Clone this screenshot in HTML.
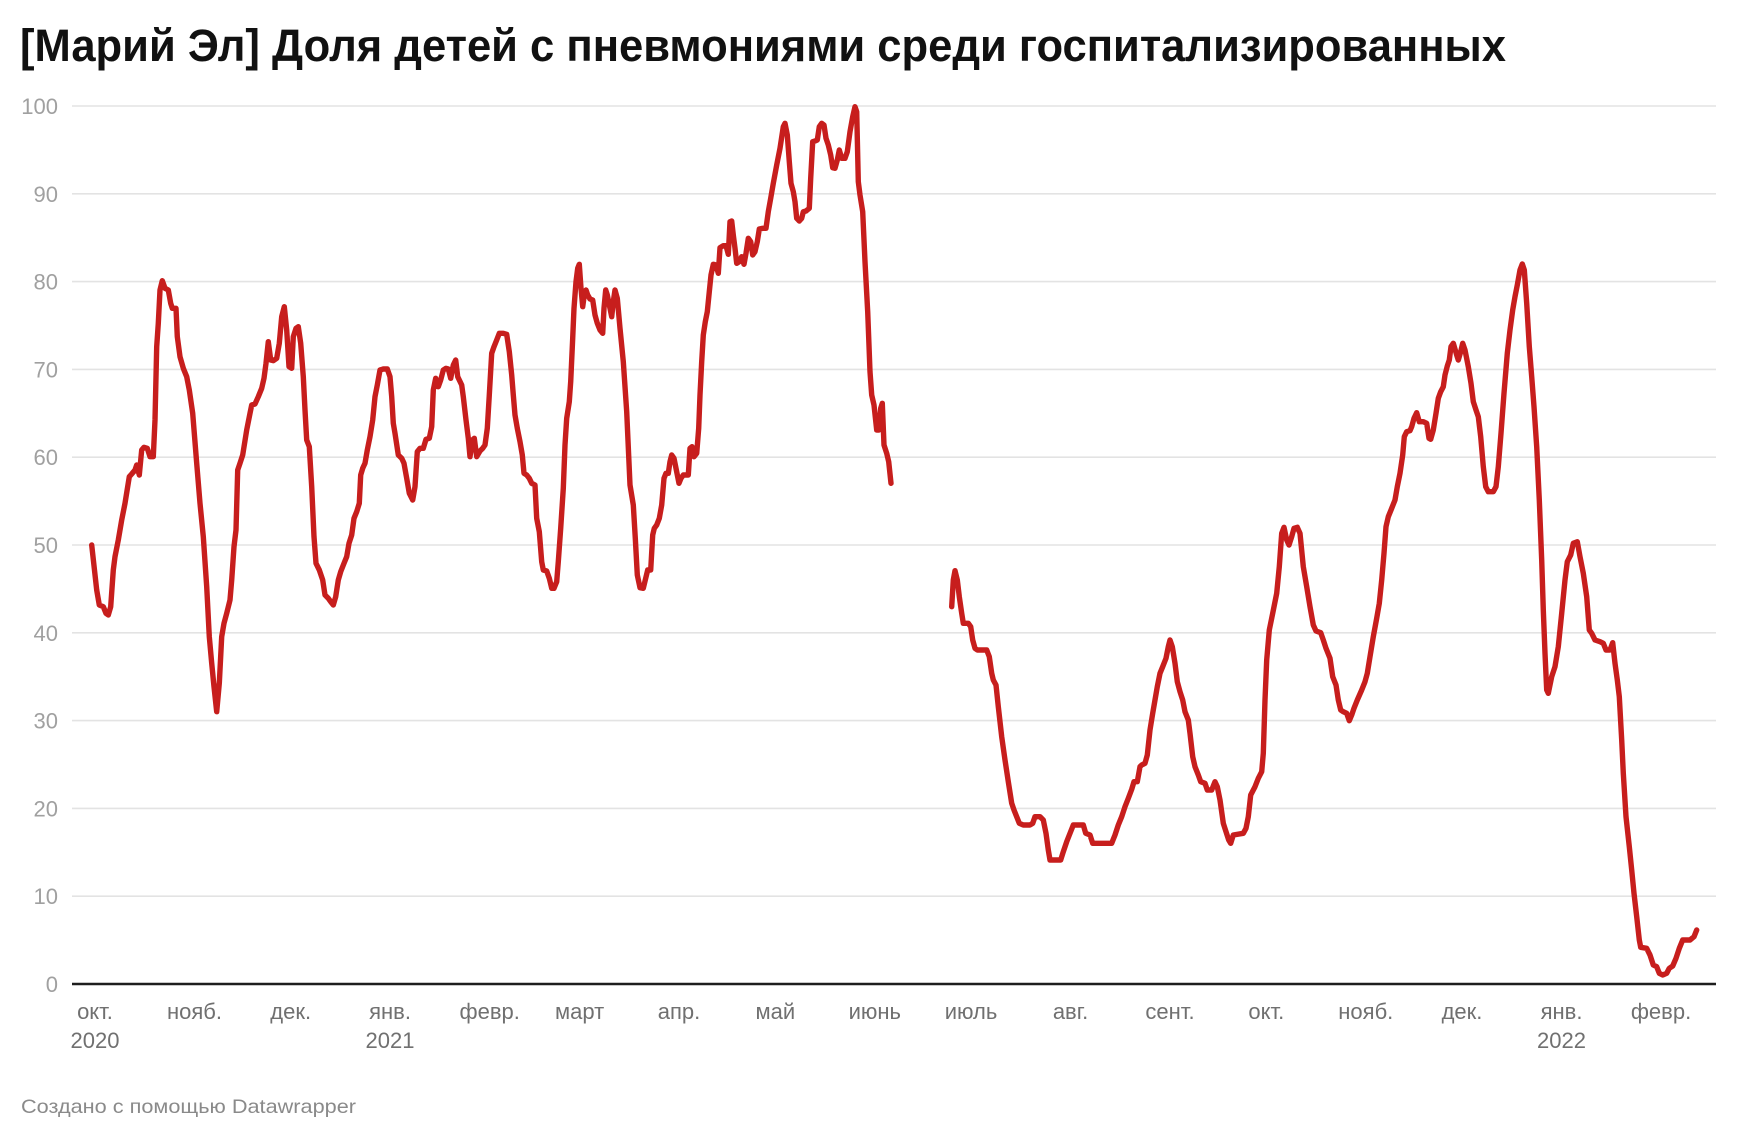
<!DOCTYPE html>
<html>
<head>
<meta charset="utf-8">
<style>
  html, body { margin: 0; padding: 0; background: #ffffff; }
  body { width: 1740px; height: 1140px; overflow: hidden; }
  svg { display: block; }
  text { font-family: "Liberation Sans", "Noto Sans CJK SC", sans-serif; }
</style>
</head>
<body>
<svg width="1740" height="1140" viewBox="0 0 1740 1140" xmlns="http://www.w3.org/2000/svg">
  <rect x="0" y="0" width="1740" height="1140" fill="#ffffff"/>

  <!-- Title -->
  <text x="20" y="61" font-size="45" font-weight="bold" fill="#111111" textLength="1486" lengthAdjust="spacingAndGlyphs">[Марий Эл] Доля детей с пневмониями среди госпитализированных</text>

  <!-- Gridlines -->
  <g stroke="#e3e3e3" stroke-width="1.6">
    <line x1="72" y1="106" x2="1716" y2="106"/>
    <line x1="72" y1="193.8" x2="1716" y2="193.8"/>
    <line x1="72" y1="281.6" x2="1716" y2="281.6"/>
    <line x1="72" y1="369.4" x2="1716" y2="369.4"/>
    <line x1="72" y1="457.2" x2="1716" y2="457.2"/>
    <line x1="72" y1="545" x2="1716" y2="545"/>
    <line x1="72" y1="632.8" x2="1716" y2="632.8"/>
    <line x1="72" y1="720.6" x2="1716" y2="720.6"/>
    <line x1="72" y1="808.4" x2="1716" y2="808.4"/>
    <line x1="72" y1="896.2" x2="1716" y2="896.2"/>
  </g>

  <!-- Y labels -->
  <g font-size="22" fill="#a0a0a0" text-anchor="end">
    <text x="58" y="114">100</text>
    <text x="58" y="201.8">90</text>
    <text x="58" y="289.6">80</text>
    <text x="58" y="377.4">70</text>
    <text x="58" y="465.2">60</text>
    <text x="58" y="553">50</text>
    <text x="58" y="640.8">40</text>
    <text x="58" y="728.6">30</text>
    <text x="58" y="816.4">20</text>
    <text x="58" y="904.2">10</text>
    <text x="58" y="992">0</text>
  </g>

  <!-- Data line -->
  <g fill="none" stroke="#c71e1d" stroke-width="5.4" stroke-linejoin="round" stroke-linecap="round">
    <polyline points="91.7,545 96.7,590 99.3,605 103.3,606.7 106,613.3 108.3,615 110.7,606.7 113.3,570 115,556.7 118.3,540 121.7,520 125,503.3 129.3,476.7 131.7,474 135,470 136.7,465 139.3,475 141.7,450 144,447.3 147.3,448.3 150,456.7 153.3,456.7 155,420 156.7,346.7 158.3,323.3 160,290 162.3,280.7 165,288.3 168.3,290 170.7,303.3 172.3,308.3 176,308.3 177.3,336.7 180,356.7 183.3,368.3 186.7,376.7 189.3,390 192.7,413.3 196.7,463.3 200,503.3 203.3,536.7 206.7,586.7 209.3,636.7 211.7,663.3 214,686.7 216.7,711.7 219.3,683.3 221.7,636.7 224,623.3 226.7,613.3 230,600 231.7,580 234,546.7 236,530 237.7,470 240,463.3 242.7,455 246.7,430 250,413.3 251.7,405 255,404 258.3,396.7 261.7,388.3 264,378.3 266,363.3 268.3,341.7 270.7,360 273.3,360.7 276.7,358.3 279.3,343.3 281.7,316.7 284.3,306.7 286.7,330 289,366.7 291.7,368.3 293.3,336.7 296,328.3 298.3,326.7 300.7,343.3 303.3,376.7 305,410 306.7,440 309.3,446.7 311.7,486.7 314,536.7 316,563.3 319.3,570 322.7,580 325,595 328.3,598.3 330.7,601.7 333.3,605 335.7,596.7 338.3,580 340.7,571.7 344,563.3 346.7,556.7 349,543.3 351.7,535 354,518.3 356.7,511.7 359.3,503.3 360.7,475 362.7,468.3 365,463.3 367.3,450 370,436.7 372.7,420 375,396.7 377.3,385 380,370 383.3,369 387.3,369 390,376.7 391.7,396.7 393.3,423.3 395,433.3 398.3,455 401.7,458.3 404,463.3 406.7,478.3 409.3,493.3 412.7,500 415,486.7 417.3,451.7 420,448.3 423.3,448.3 426,439.3 429.3,438.3 431.7,426.7 433.3,390 435.7,378.3 438.3,386.7 440.7,380 443.3,370 446,368.3 448.3,369 450.7,378.3 453.3,365 455.7,360 457.7,376.7 461.7,385 463.3,396.7 466,420 468.3,438.3 470,456.7 472.3,440 474.3,438.3 476.7,456.7 480,451 482.7,448.3 485,445 487.3,428.3 489.3,395 491.7,353.3 494,346.7 496.7,340 499.3,333.3 503.3,333.3 506.7,334.3 509.3,351.7 511.7,375 513.3,395 515,415 517.3,428.3 520,441.7 522.3,455 524,473.3 526.7,475 529.3,478.3 531.7,483.3 535,485 536.7,518.3 539.3,531.7 541.7,561.7 543.3,570 546.7,571 549.3,578.3 551.7,588.3 554,588.3 556.7,581.7 558.3,561.7 560.7,528.3 563.3,488.3 565,445 566.7,418.3 569.3,401.7 570.7,381.7 572.7,338.3 574,308.3 576,281.7 577.7,268.3 579.3,264.3 581,288.3 582.7,306.7 584.3,295 586,290 587.7,295 590,299 592.7,300 595,315 597.3,323.3 600,330 602.7,333.3 604,308.3 605.7,290 607.3,295 610,308.3 611.7,316.7 613.3,301.7 615,290 617.3,298.3 620,328.3 623.3,361.7 626.7,411.7 630,485 633.3,505 635.3,538.3 637.3,575 640,587.7 643.3,588.3 645.7,578.3 647.7,570 650.7,570 652.7,535 654.3,528.3 656.7,525 659.3,518.3 661.7,505 664,478.3 666,473.3 668.3,473.3 670,461.7 671.7,455 674,458.3 676,468.3 679,483.3 681,478.3 683.3,475 688.3,475 690,448.3 692,446.7 694,456.7 696.7,453.3 698.7,428.3 700,395 701.7,361.7 703.3,335 705.3,321.7 707.3,311.7 709.3,291.7 711,275 713.3,264.3 716,265 718.3,273.3 720,247.7 723.3,245.7 726,245.7 728.3,254.3 730,221.7 731.7,221 733.3,235 735,248.3 736.7,263.3 739.3,261.7 741.7,256.7 744,264.3 746,253.3 748.3,238.3 750.7,241.7 752.7,255 755,251.7 757.3,241.7 759.3,229 762.7,228.3 766,228.3 768.3,211.7 770.7,198.3 773.3,183.3 776.7,165 780,148.3 783.3,126.7 785,123.3 787.3,135 789.3,161.7 791,183.3 793.3,191.7 795,201.7 796.7,218.3 799.3,221 801.7,218.3 803.3,211.7 806,211 809.3,208.3 810.7,178.3 812.7,141.7 815,141 817.3,140 819.3,126.7 821.7,123.3 824,125 826,138.3 828.3,145 830.7,155 832.7,167.7 835,168.3 837.3,160 839.3,150 841.7,158.3 845,158.3 847.3,151.7 850,131.7 852.7,116.7 855,106.7 856.7,111.7 858.3,181.7 860,195 862.7,211.7 865,261.7 867.7,311.7 870,371.7 871.7,395 874,405 876.7,430 879,430 880.7,408.3 882.3,403.3 884,445 886.7,453.3 888.7,461.7 891,483.3"/>
    <polyline points="951.7,606.7 953.3,580 955,570.7 957.3,580 959.3,596.7 961.7,613.3 963.3,623.3 968.3,623.3 970.7,626.7 972.7,640 975,648.3 977.3,650 986.7,650 989.3,656.7 991.7,673.3 993.3,680 996,685 998.3,706.7 1001.7,736.7 1005,760 1008.3,781.7 1011.7,803.3 1014,810 1016.7,816.7 1019.3,823.3 1023.3,825 1030,825 1032.7,823.3 1035,816.7 1040,816.7 1043.3,820 1046,833.3 1048.3,850 1050,860 1060.7,860 1063.3,851.7 1066.7,841.7 1070,833.3 1073.3,825 1083.3,825 1085.7,833.3 1090,835 1092.7,843.3 1111.7,843.3 1115,835 1118.3,825 1121.7,816.7 1125,806.7 1128.3,798.3 1131.7,789.3 1134,781.7 1137.3,781.7 1140,766.7 1141.7,765 1145,763.3 1147.3,755 1150,730 1152.7,713.3 1155,700 1157.3,686.7 1160,673.3 1162.7,666.7 1166,658.3 1168.3,646.7 1170,640 1172.3,646.7 1175,663.3 1177.3,681.7 1180,691.7 1182.7,700 1185,711.7 1188.3,720 1190,733.3 1192.7,756.7 1195,766.7 1198.3,775 1200.7,781.7 1205,783.3 1207.3,790 1211.7,790 1215,781.7 1217.3,786.7 1220,800 1223.3,823.3 1226,831.7 1228.7,840 1230.7,843.3 1233.3,835 1243.3,833.3 1246,828.3 1248.3,816.7 1250.7,795 1255,786.7 1258.3,778.3 1261.7,771.7 1263.3,753.3 1265,700 1266.7,660 1269.3,630 1272.7,613.3 1276.7,593.3 1279.3,566.7 1281.7,533.3 1284,527.3 1286.7,540 1289,545 1291.7,536.7 1294,528.3 1297.3,527.3 1300,533.3 1303.3,566.7 1306.7,586.7 1310,606.7 1313.3,625 1316,631 1320.7,632.7 1323.3,640 1326,648.3 1330,658.3 1332.7,676.7 1336,685 1338.3,700 1340.7,710 1343.3,711.7 1346.7,713.3 1349.3,720.7 1351.7,715 1354,708.3 1357.3,700 1361.7,690 1365,681.7 1367.3,673.3 1370,656.7 1373.3,636.7 1376.7,618.3 1379.3,603.3 1381.7,580 1384,553.3 1386,526.7 1388.3,516.7 1391.7,508.3 1395,500 1397.3,486.7 1400,473.3 1402.7,455 1404.3,436.7 1406.7,431.7 1410,430.7 1411.7,426.7 1414,418.3 1416.7,412.7 1419.3,421.7 1423.3,421.7 1426.7,423.3 1429,438.3 1430.7,439.3 1433.3,430 1436,413.3 1438.3,398.3 1440.7,391.7 1443.3,386.7 1445,375 1447.3,366 1449.3,360 1451,346.7 1453.3,343.3 1456.7,355 1458.3,360 1460.7,351.7 1462.7,343.3 1465,350 1468.3,366.7 1471,383.3 1473.3,401.7 1476,410 1478.3,416.7 1480.7,436.7 1483.3,466.7 1485.7,486.7 1488.3,491.7 1493.3,491.7 1496,486.7 1498.3,466.7 1501,433.3 1504,393.3 1507.3,353.3 1510,330 1512.7,310 1515,296.7 1517.3,285 1520,270 1522.3,264 1524.3,270 1526.7,303.3 1529.3,346.7 1531.7,376.7 1534,406.7 1536.7,446.7 1539.3,500 1541.7,560 1543.3,610 1545,653.3 1546.7,690 1548.3,693.3 1551.7,676.7 1555,666.7 1558.3,646.7 1561.7,613.3 1565,580 1567.3,561.7 1570.7,555 1573.3,543.3 1577.3,541.7 1580,556.7 1583.3,573.3 1586.7,596.7 1589.3,630 1591.7,633.3 1595,640 1600,641.7 1603.3,643.3 1606,650 1610,650 1612.7,642.7 1615,663.3 1617.3,680 1619.3,696.7 1621.7,740 1623.3,773.3 1626,816.7 1629.3,846.7 1631.7,870 1634,893.3 1636.7,916.7 1639.3,940 1640.7,947.3 1646.7,948.3 1650,955 1653.3,965 1656.7,966.7 1659.3,973.3 1662.7,975 1666.7,973.3 1669.3,968.3 1672.7,966 1676,958.3 1679.3,948.3 1682.7,940 1690,940 1694,936.7 1696.7,930"/>
  </g>

  <!-- X axis baseline -->
  <line x1="72" y1="984" x2="1716" y2="984" stroke="#1e1e1e" stroke-width="2.4"/>

  <!-- X labels -->
  <g font-size="22" fill="#707070" text-anchor="middle">
    <text x="95" y="1019">окт.</text>
    <text x="194.5" y="1019">нояб.</text>
    <text x="290.7" y="1019">дек.</text>
    <text x="390" y="1019">янв.</text>
    <text x="489.7" y="1019">февр.</text>
    <text x="579.6" y="1019">март</text>
    <text x="679" y="1019">апр.</text>
    <text x="775.3" y="1019">май</text>
    <text x="874.8" y="1019">июнь</text>
    <text x="971" y="1019">июль</text>
    <text x="1070.5" y="1019">авг.</text>
    <text x="1170" y="1019">сент.</text>
    <text x="1266.3" y="1019">окт.</text>
    <text x="1365.8" y="1019">нояб.</text>
    <text x="1462" y="1019">дек.</text>
    <text x="1561.5" y="1019">янв.</text>
    <text x="1661" y="1019">февр.</text>
    <text x="95" y="1048">2020</text>
    <text x="390" y="1048">2021</text>
    <text x="1561.5" y="1048">2022</text>
  </g>

  <!-- Footer -->
  <text x="21" y="1113" font-size="19.5" fill="#8a8a8a" textLength="335" lengthAdjust="spacingAndGlyphs">Создано с помощью Datawrapper</text>
</svg>
</body>
</html>
